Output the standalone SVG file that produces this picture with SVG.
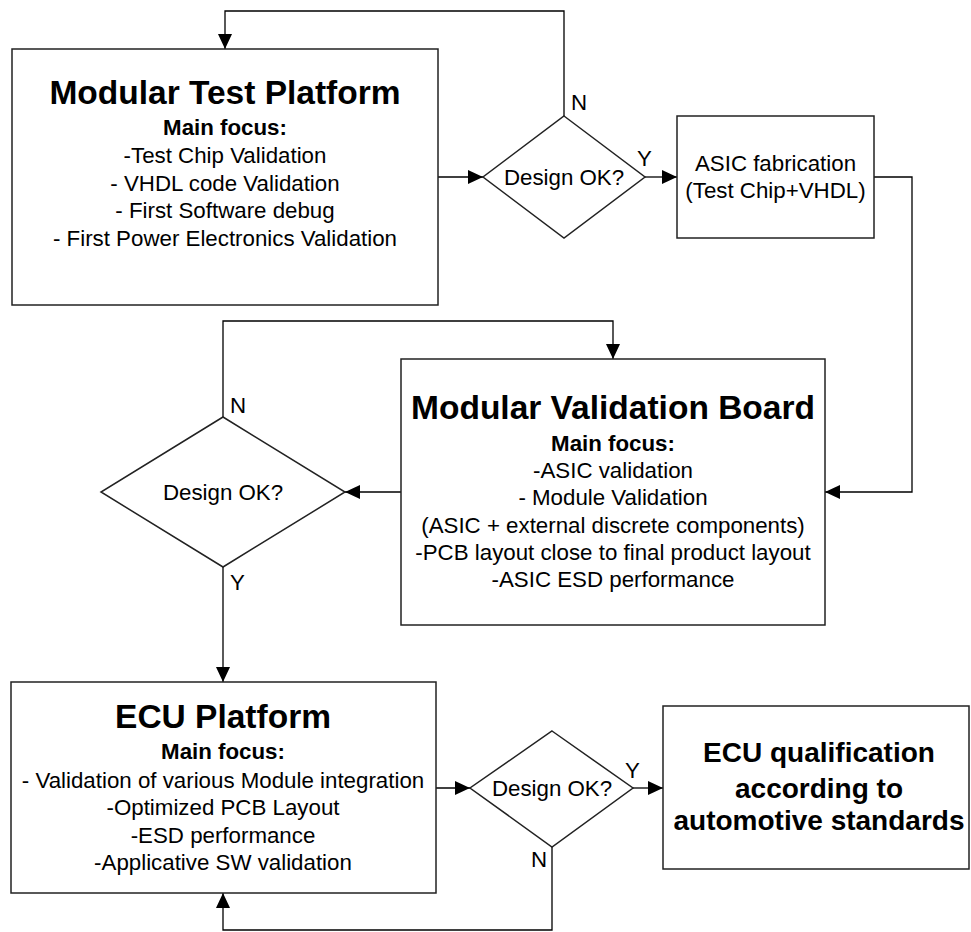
<svg xmlns="http://www.w3.org/2000/svg" width="971" height="932" viewBox="0 0 971 932">
  <style>
    text { font-family: "Liberation Sans", Arial, sans-serif; fill: #000; text-anchor: middle; }
    .title { font-size: 33.5px; font-weight: bold; }
    .sub { font-size: 22.3px; font-weight: bold; }
    .body { font-size: 22.3px; }
    .big { font-size: 28px; font-weight: bold; }
    .lbl { font-size: 22.3px; text-anchor: start; }
    .shape { fill: #fff; stroke: #222; stroke-width: 1.5; }
    .wire { fill: none; stroke: #000; stroke-width: 1.3; }
  </style>
  <defs>
    <marker id="arrow" markerUnits="userSpaceOnUse" markerWidth="16" markerHeight="14" refX="15" refY="7" orient="auto">
      <path d="M0,0 L15,7 L0,14 Z" fill="#000"/>
    </marker>
  </defs>
  <rect width="971" height="932" fill="#fff"/>

  <!-- connectors -->
  <g id="connectors">
    <!-- test platform loop back -->
    <polyline class="wire" points="564,116 564,11 225,11 225,49" marker-end="url(#arrow)"/>
    <line class="wire" x1="438" y1="177" x2="483" y2="177" marker-end="url(#arrow)"/>
    <line class="wire" x1="645" y1="177" x2="677" y2="177" marker-end="url(#arrow)"/>
    <polyline class="wire" points="874,177 912,177 912,492 825,492" marker-end="url(#arrow)"/>
    <line class="wire" x1="401" y1="492" x2="345" y2="492" marker-end="url(#arrow)"/>
    <polyline class="wire" points="223,417 223,321 613,321 613,359" marker-end="url(#arrow)"/>
    <line class="wire" x1="223" y1="567" x2="223" y2="682" marker-end="url(#arrow)"/>
    <line class="wire" x1="436" y1="788" x2="470" y2="788" marker-end="url(#arrow)"/>
    <line class="wire" x1="633" y1="788" x2="663" y2="788" marker-end="url(#arrow)"/>
    <polyline class="wire" points="552,847 552,930 223,930 223,893" marker-end="url(#arrow)"/>
  </g>

  <g id="modular-test-platform">
    <rect class="shape" x="12" y="49" width="426" height="256"/>
    <text class="title" x="225" y="104">Modular Test Platform</text>
    <text class="sub" x="225" y="135">Main focus:</text>
    <text class="body" x="225" y="163">-Test Chip Validation</text>
    <text class="body" x="225" y="191">- VHDL code Validation</text>
    <text class="body" x="225" y="218">- First Software debug</text>
    <text class="body" x="225" y="246">- First Power Electronics Validation</text>
  </g>

  <g id="decision-1">
    <polygon class="shape" points="564,116 645,177 564,238 483,177"/>
    <text class="body" x="564" y="185">Design OK?</text>
    <text class="lbl" x="571" y="110">N</text>
    <text class="lbl" x="637" y="166">Y</text>
  </g>

  <g id="asic-fabrication">
    <rect class="shape" x="677" y="116" width="197" height="122"/>
    <text class="body" x="775.5" y="171">ASIC fabrication</text>
    <text class="body" x="775.5" y="198">(Test Chip+VHDL)</text>
  </g>

  <g id="modular-validation-board">
    <rect class="shape" x="401" y="359" width="424" height="266"/>
    <text class="title" x="613" y="419">Modular Validation Board</text>
    <text class="sub" x="613" y="451">Main focus:</text>
    <text class="body" x="613" y="478">-ASIC validation</text>
    <text class="body" x="613" y="505">- Module Validation</text>
    <text class="body" x="613" y="533">(ASIC + external discrete components)</text>
    <text class="body" x="613" y="560">-PCB layout close to final product layout</text>
    <text class="body" x="613" y="587">-ASIC ESD performance</text>
  </g>

  <g id="decision-2">
    <polygon class="shape" points="223,417 345,492 223,567 101,492"/>
    <text class="body" x="223" y="500">Design OK?</text>
    <text class="lbl" x="230" y="413">N</text>
    <text class="lbl" x="230" y="590">Y</text>
  </g>

  <g id="ecu-platform">
    <rect class="shape" x="11" y="682" width="425" height="211"/>
    <text class="title" x="223" y="728">ECU Platform</text>
    <text class="sub" x="223" y="759">Main focus:</text>
    <text class="body" x="223" y="788">- Validation of various Module integration</text>
    <text class="body" x="223" y="815">-Optimized PCB Layout</text>
    <text class="body" x="223" y="843">-ESD performance</text>
    <text class="body" x="223" y="870">-Applicative SW validation</text>
  </g>

  <g id="decision-3">
    <polygon class="shape" points="552,731 633,788 552,847 470,788"/>
    <text class="body" x="552" y="796">Design OK?</text>
    <text class="lbl" x="625" y="778">Y</text>
    <text class="lbl" x="531" y="867">N</text>
  </g>

  <g id="ecu-qualification">
    <rect class="shape" x="663" y="706" width="306" height="163"/>
    <text class="big" x="819" y="762">ECU qualification</text>
    <text class="big" x="819" y="798">according to</text>
    <text class="big" x="819" y="830">automotive standards</text>
  </g>
</svg>
